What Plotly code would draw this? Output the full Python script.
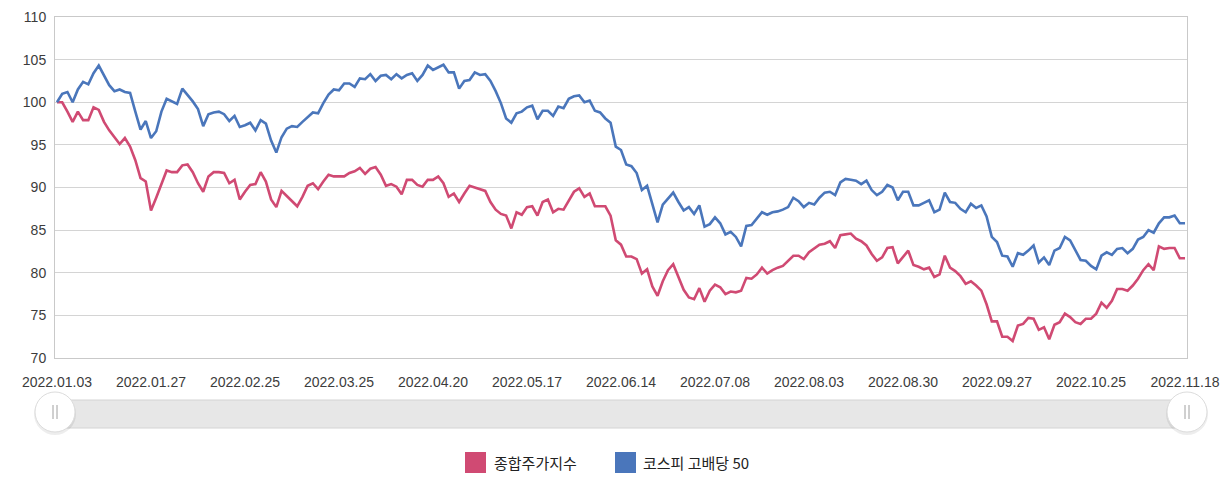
import pandas as pd
import plotly.graph_objects as go

# KRX closed days in the period
holidays = ["2022-01-31", "2022-02-01", "2022-02-02", "2022-03-01", "2022-03-09",
            "2022-05-05", "2022-06-01", "2022-06-06", "2022-08-15", "2022-09-09",
            "2022-09-12", "2022-10-03", "2022-10-10"]
days = pd.bdate_range("2022-01-03", "2022-11-18", freq="C", holidays=holidays)
dates = [d.strftime("%Y.%m.%d") for d in days]

# 종합주가지수 (rebased to 100)
kospi = [
    100.0, 100.0, 98.9, 97.7, 98.9, 97.9, 97.9, 99.4, 99.1, 97.7,
    96.7, 95.9, 95.1, 95.8, 94.8, 93.2, 91.1, 90.7, 87.3, 88.8,
    90.5, 92.0, 91.8, 91.8, 92.6, 92.7, 91.8, 90.5, 89.5, 91.3,
    91.8, 91.8, 91.7, 90.5, 90.9, 88.6, 89.5, 90.3, 90.4, 91.8,
    90.7, 88.6, 87.7, 89.6, 89.0, 88.4, 87.8, 88.9, 90.2, 90.5,
    89.8, 90.7, 91.5, 91.3, 91.3, 91.3, 91.7, 91.9, 92.3, 91.6,
    92.2, 92.4, 91.5, 90.2, 90.4, 90.1, 89.2, 90.9, 90.9, 90.3,
    90.1, 90.9, 90.9, 91.3, 90.5, 88.9, 89.3, 88.3, 89.3, 90.2,
    90.0, 89.8, 89.6, 88.3, 87.4, 86.9, 86.7, 85.2, 87.1, 86.8,
    87.7, 87.8, 86.7, 88.3, 88.6, 87.1, 87.5, 87.4, 88.5, 89.5,
    89.9, 88.9, 89.3, 87.8, 87.8, 87.8, 86.7, 83.8, 83.3, 81.9,
    81.9, 81.6, 79.9, 80.4, 78.4, 77.3, 79.0, 80.3, 81.0, 79.5,
    78.0, 77.1, 76.9, 78.2, 76.6, 77.9, 78.6, 78.3, 77.5, 77.8,
    77.7, 77.9, 79.4, 79.3, 79.8, 80.6, 79.9, 80.3, 80.6, 80.8,
    81.4, 82.0, 82.0, 81.6, 82.4, 82.8, 83.3, 83.4, 83.7, 82.9,
    84.4, 84.5, 84.6, 84.0, 83.7, 83.2, 82.2, 81.4, 81.8, 82.9,
    83.0, 81.1, 81.9, 82.6, 80.9, 80.7, 80.4, 80.6, 79.5, 79.8,
    82.0, 80.6, 80.2, 79.6, 78.7, 79.0, 78.5, 77.9, 76.3, 74.3,
    74.3, 72.5, 72.5, 72.0, 73.8, 74.0, 74.7, 74.6, 73.3, 73.6,
    72.2, 73.9, 74.2, 75.2, 74.8, 74.2, 74.0, 74.6, 74.6, 75.2,
    76.5, 75.9, 76.7, 78.1, 78.1, 77.9, 78.5, 79.3, 80.3, 81.0,
    80.3, 83.1, 82.8, 82.9, 82.9, 81.7, 81.7,
]

# 코스피 고배당 50 (rebased to 100)
high_div50 = [
    100.0, 101.0, 101.2, 100.0, 101.5, 102.4, 102.1, 103.4, 104.3, 103.1,
    102.0, 101.3, 101.5, 101.2, 101.1, 98.9, 96.8, 97.8, 95.8, 96.6,
    98.9, 100.4, 100.1, 99.8, 101.6, 100.9, 100.1, 99.2, 97.2, 98.6,
    98.8, 98.9, 98.6, 97.8, 98.4, 97.1, 97.3, 97.6, 96.7, 97.9,
    97.5, 95.5, 94.1, 95.9, 96.9, 97.2, 97.1, 97.7, 98.3, 98.8,
    98.7, 99.9, 100.9, 101.5, 101.4, 102.2, 102.2, 101.8, 102.8, 102.7,
    103.3, 102.5, 103.1, 103.2, 102.7, 103.3, 102.8, 103.2, 103.4, 102.5,
    103.2, 104.3, 103.8, 104.1, 104.4, 103.5, 103.5, 101.6, 102.5, 102.6,
    103.5, 103.2, 103.3, 102.5, 101.3, 99.9, 98.1, 97.6, 98.7, 98.9,
    99.4, 99.6, 98.0, 99.0, 99.0, 98.4, 99.5, 99.3, 100.4, 100.7,
    100.8, 100.0, 100.2, 99.0, 98.8, 98.1, 97.6, 94.8, 94.4, 92.7,
    92.5, 91.7, 89.7, 90.2, 87.9, 85.9, 88.0, 88.7, 89.4, 88.3,
    87.3, 87.7, 86.9, 87.9, 85.4, 85.7, 86.5, 85.8, 84.5, 84.8,
    84.2, 83.1, 85.5, 85.6, 86.4, 87.1, 86.8, 87.1, 87.2, 87.4,
    87.7, 88.8, 88.4, 87.7, 88.2, 88.0, 88.8, 89.4, 89.5, 89.1,
    90.6, 91.0, 90.9, 90.8, 90.4, 90.8, 89.7, 89.1, 89.5, 90.3,
    90.0, 88.5, 89.5, 89.5, 87.9, 87.9, 88.2, 88.5, 87.1, 87.4,
    89.4, 88.3, 88.2, 87.5, 87.1, 88.1, 87.6, 87.9, 86.6, 84.2,
    83.6, 82.0, 81.9, 80.7, 82.3, 82.1, 82.6, 83.2, 81.2, 81.8,
    80.9, 82.6, 82.9, 84.2, 83.8, 82.7, 81.5, 81.4, 80.8, 80.4,
    82.0, 82.4, 82.1, 82.8, 82.9, 82.3, 82.8, 83.9, 84.2, 85.0,
    84.7, 85.8, 86.5, 86.5, 86.7, 85.8, 85.8,
]

names = ["종합주가지수", "코스피 고배당 50"]
colors = ["#d04a73", "#4a76bb"]
tick_dates = dates[::18]

fig = go.Figure()
for vals, name, col in zip([kospi, high_div50], names, colors):
    fig.add_trace(go.Scatter(x=dates, y=vals, name=name, mode="lines",
                             line=dict(color=col, width=2.6), showlegend=False))

# plot area on screen: 1132 x 341 px at (55, 17); page body adds 8 px
W, H, L, T = 1132, 341, 55, 17
OFF = 8
def px(x):
    return (x - L) / W
def py(y):
    return (T + H - y) / H

shapes = []
# slider track
shapes.append(dict(type="rect", xref="paper", yref="paper", x0=0, x1=1,
                   y0=py(428), y1=py(400), fillcolor="#e7e7e7",
                   line=dict(color="#d4d4d4", width=1), layer="above"))
# slider handles
for hx in [55, 1187]:
    shapes.append(dict(type="circle", xref="paper", yref="paper",
                       xsizemode="pixel", ysizemode="pixel",
                       xanchor=px(hx), yanchor=py(414),
                       x0=-21, x1=21, y0=-21, y1=21,
                       fillcolor="rgba(0,0,0,0.07)", line=dict(width=0), layer="above"))
    shapes.append(dict(type="circle", xref="paper", yref="paper",
                       xsizemode="pixel", ysizemode="pixel",
                       xanchor=px(hx), yanchor=py(412),
                       x0=-20, x1=20, y0=-20, y1=20,
                       fillcolor="white", line=dict(color="#dcdcdc", width=1), layer="above"))
    for dx in [-2, 2]:
        shapes.append(dict(type="line", xref="paper", yref="paper",
                           xsizemode="pixel", ysizemode="pixel",
                           xanchor=px(hx), yanchor=py(412),
                           x0=dx, x1=dx, y0=-7, y1=7,
                           line=dict(color="#a0a0a0", width=1), layer="above"))

# legend drawn as squares + text
annotations = []
for sx, tx, name, col in [(475.5, 492, names[0], colors[0]), (625.5, 641, names[1], colors[1])]:
    shapes.append(dict(type="rect", xref="paper", yref="paper",
                       xsizemode="pixel", ysizemode="pixel",
                       xanchor=px(sx), yanchor=py(462.5),
                       x0=-10.5, x1=10.5, y0=-10.5, y1=10.5,
                       fillcolor=col, line=dict(width=0), layer="above"))
    annotations.append(dict(text=name, xref="paper", yref="paper", x=px(tx), y=py(462.5),
                            xanchor="left", yanchor="middle", showarrow=False,
                            font=dict(family="Noto Sans CJK KR", size=15, color="#222")))

# keep the page (figure + 8 px body margin on each side) inside 1231 x 487
fig_w, fig_h = 1231 - 2 * OFF, 487 - 2 * OFF
fig.update_layout(
    width=fig_w, height=fig_h,
    margin=dict(l=L - OFF, r=fig_w - (L - OFF) - W, t=T - OFF, b=fig_h - (T - OFF) - H),
    paper_bgcolor="white", plot_bgcolor="white",
    font=dict(family="Liberation Sans, Noto Sans CJK KR", size=14, color="#3c3c3c"),
    shapes=shapes, annotations=annotations,
    showlegend=False,
)
fig.update_xaxes(type="category", range=[-0.38, 216.38], tickvals=tick_dates,
                 ticktext=tick_dates, showgrid=False, showline=True, mirror=True,
                 linecolor="#c9c9c9", linewidth=1, ticks="", ticklabelstandoff=11,
                 automargin=False)
fig.update_yaxes(range=[70, 110], dtick=5, showgrid=True, gridcolor="#d4d4d4",
                 gridwidth=1, showline=True, mirror=True, linecolor="#c9c9c9",
                 linewidth=1, zeroline=False, ticks="", ticklabelstandoff=5,
                 automargin=False)

fig.write_html("out.html")
